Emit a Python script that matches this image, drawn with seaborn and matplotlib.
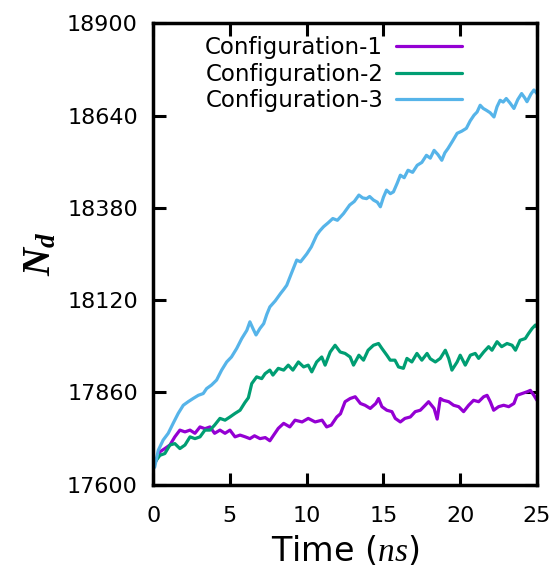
import numpy as np
import pandas as pd
import seaborn as sns
import matplotlib.pyplot as plt

# values (time in ns, N_d)
t1 = [0.0, 0.1, 0.44, 0.76, 1.09, 1.41, 1.74, 2.07, 2.4, 2.72, 3.05, 3.37, 3.7, 4.0, 4.35, 4.68,
      5.0, 5.33, 5.66, 6.0, 6.3, 6.6, 6.96, 7.3, 7.6, 7.85, 8.15, 8.5, 8.9, 9.24, 9.7, 10.1,
      10.55, 11.0, 11.3, 11.6, 11.96, 12.2, 12.5, 12.83, 13.16, 13.5, 13.8, 14.14, 14.5, 14.68,
      14.9, 15.22, 15.55, 15.77, 16.1, 16.4, 16.75, 17.07, 17.4, 17.72, 17.94, 18.3, 18.5, 18.7,
      18.9, 19.25, 19.57, 19.9, 20.22, 20.55, 20.87, 21.2, 21.53, 21.75, 21.96, 22.18, 22.5,
      22.83, 23.16, 23.5, 23.7, 24.03, 24.36, 24.57, 24.8, 25.0]
n1 = [17655, 17660, 17693, 17702, 17712, 17735, 17754, 17749, 17754, 17745, 17763, 17758, 17763,
      17745, 17754, 17745, 17754, 17735, 17740, 17735, 17730, 17738, 17730, 17733, 17724, 17740,
      17759, 17773, 17763, 17782, 17777, 17787, 17777, 17782, 17763, 17768, 17791, 17800, 17834,
      17843, 17848, 17829, 17824, 17815, 17829, 17843, 17820, 17810, 17806, 17787, 17777, 17787,
      17791, 17806, 17810, 17824, 17834, 17815, 17785, 17843, 17838, 17834, 17824, 17820, 17806,
      17824, 17838, 17834, 17848, 17852, 17834, 17810, 17820, 17824, 17820, 17829, 17852, 17857,
      17862, 17866, 17852, 17838]

t2 = [0.0, 0.1, 0.44, 0.76, 1.09, 1.41, 1.74, 2.07, 2.4, 2.72, 3.05, 3.37, 3.7, 4.0, 4.35, 4.68,
      5.0, 5.33, 5.66, 5.98, 6.2, 6.42, 6.74, 7.07, 7.29, 7.6, 7.8, 8.15, 8.5, 8.8, 9.1, 9.46,
      9.8, 10.1, 10.33, 10.65, 10.98, 11.2, 11.53, 11.85, 12.18, 12.5, 12.83, 13.05, 13.4, 13.7,
      14.0, 14.35, 14.68, 14.9, 15.22, 15.44, 15.75, 15.98, 16.3, 16.53, 16.85, 17.18, 17.5,
      17.84, 18.05, 18.38, 18.7, 19.03, 19.25, 19.46, 19.8, 20.0, 20.33, 20.66, 20.98, 21.2,
      21.53, 21.85, 22.07, 22.4, 22.7, 23.05, 23.38, 23.6, 23.9, 24.24, 24.45, 24.68, 24.9, 25.0]
n2 = [17658, 17663, 17683, 17688, 17712, 17716, 17702, 17712, 17735, 17730, 17735, 17754, 17754,
      17768, 17787, 17782, 17791, 17801, 17810, 17832, 17845, 17885, 17904, 17899, 17913, 17923,
      17909, 17928, 17923, 17937, 17923, 17946, 17932, 17937, 17918, 17946, 17960, 17937, 17974,
      17993, 17974, 17970, 17960, 17937, 17965, 17951, 17979, 17993, 17998, 17984, 17965, 17951,
      17951, 17932, 17928, 17956, 17946, 17970, 17951, 17970, 17955, 17946, 17956, 17979, 17956,
      17923, 17946, 17965, 17937, 17965, 17970, 17956, 17974, 17989, 17979, 18003, 17989, 17998,
      17993, 17979, 18007, 18012, 18026, 18040, 18050, 18045]

t3 = [0.0, 0.1, 0.33, 0.65, 0.98, 1.3, 1.63, 1.96, 2.28, 2.6, 2.94, 3.26, 3.48, 3.8, 4.13, 4.46,
      4.79, 5.1, 5.44, 5.77, 6.1, 6.3, 6.5, 6.7, 6.95, 7.2, 7.4, 7.6, 7.95, 8.3, 8.5, 8.7, 9.0,
      9.35, 9.6, 10.0, 10.3, 10.65, 10.85, 11.1, 11.4, 11.7, 12.0, 12.4, 12.6, 12.8, 13.1, 13.4,
      13.65, 13.9, 14.1, 14.35, 14.6, 14.8, 15.0, 15.2, 15.45, 15.65, 15.9, 16.1, 16.35, 16.6,
      16.9, 17.2, 17.5, 17.8, 18.05, 18.3, 18.55, 18.8, 19.0, 19.2, 19.5, 19.8, 20.1, 20.4,
      20.65, 20.9, 21.1, 21.3, 21.5, 21.7, 21.95, 22.2, 22.4, 22.6, 22.8, 23.0, 23.25, 23.5,
      23.75, 24.0, 24.2, 24.35, 24.6, 24.8, 25.0]
n3 = [17645, 17650, 17697, 17726, 17745, 17773, 17801, 17824, 17834, 17843, 17852, 17857, 17871,
      17881, 17895, 17923, 17946, 17960, 17984, 18012, 18035, 18059, 18040, 18022, 18040, 18054,
      18080, 18101, 18118, 18139, 18150, 18162, 18195, 18233, 18228, 18250, 18270, 18303, 18315,
      18327, 18338, 18350, 18345, 18364, 18376, 18388, 18398, 18416, 18408, 18406, 18412, 18402,
      18396, 18383, 18410, 18430, 18420, 18425, 18450, 18472, 18465, 18486, 18480, 18500, 18508,
      18528, 18520, 18542, 18530, 18514, 18535, 18547, 18568, 18590, 18596, 18604, 18625, 18641,
      18650, 18669, 18660, 18655, 18648, 18636, 18665, 18683, 18678, 18688, 18675, 18660, 18685,
      18702, 18690, 18679, 18700, 18712, 18702]

labels = ['Configuration-1', 'Configuration-2', 'Configuration-3']
colors = ['#9400d3', '#009e73', '#56b4e9']

sns.set_style('ticks')
plt.rcParams['font.family'] = ['DejaVu Sans']
plt.rcParams['text.color'] = 'black'
plt.rcParams['axes.labelcolor'] = 'black'
plt.rcParams['xtick.color'] = 'black'
plt.rcParams['ytick.color'] = 'black'
plt.rcParams['mathtext.fontset'] = 'custom'
plt.rcParams['mathtext.it'] = 'Liberation Serif:italic'
plt.rcParams['mathtext.bf'] = 'Liberation Serif:italic:bold'

fig = plt.figure(figsize=(5.53, 5.67), dpi=100)
ax = fig.add_axes([0.277, 0.145, 0.694, 0.814])

for t, n, lab, c in zip([t1, t2, t3], [n1, n2, n3], labels, colors):
    df = pd.DataFrame({'t': t, 'n': n})
    sns.lineplot(data=df, x='t', y='n', ax=ax, color=c, lw=2.3, label=lab, estimator=None)

ax.set_xlim(0, 25)
ax.set_ylim(17600, 18900)
ax.set_xticks([0, 5, 10, 15, 20, 25])
ax.set_yticks([17600, 17860, 18120, 18380, 18640, 18900])
ax.tick_params(direction='in', length=9, width=2.2, labelsize=16, top=True, right=True)
ax.tick_params(axis='y', pad=11)
ax.tick_params(axis='x', pad=15)
for s in ax.spines.values():
    s.set_linewidth(2.5)
    s.set_color('black')

ax.set_xlabel('Time ($ns$)', fontsize=24, labelpad=6)
ax.set_ylabel(r'$\mathbf{N_d}$', fontsize=28, labelpad=6)

ax.legend(loc='upper left', bbox_to_anchor=(196 / 553, 1 - 27 / 567), bbox_transform=fig.transFigure,
          frameon=False, markerfirst=False, fontsize=16.5, handlelength=2.9, handletextpad=0.55,
          labelspacing=0.15, borderaxespad=0.0)

fig.savefig('out.png', dpi=100)
